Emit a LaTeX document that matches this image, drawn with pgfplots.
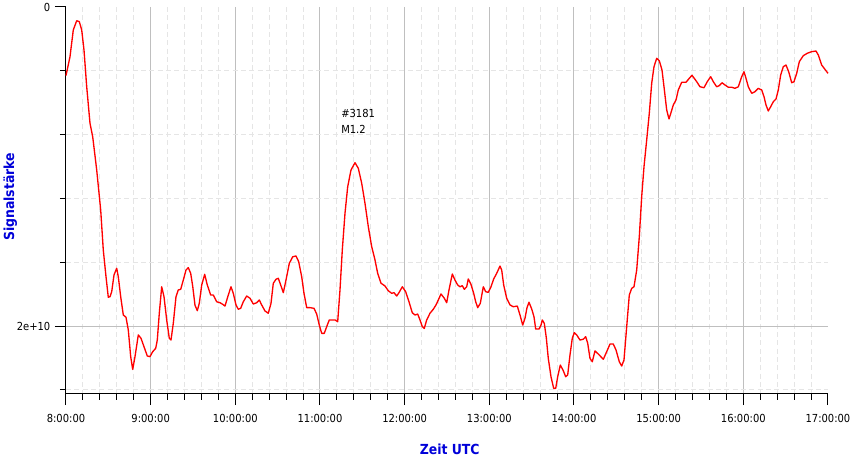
\documentclass[border=0pt]{standalone}
\usepackage{fontspec}
\setmainfont{DejaVu Sans Condensed}
\usepackage{pgfplots}
\usepackage{pgfplotstable}
\pgfplotsset{compat=1.18}
\pgfplotstableread{
m v
0 0.43
2.83 0.312
5.17 0.144
7.58 0.086
9.43 0.092
11.13 0.144
12.76 0.270
14.67 0.500
17.01 0.729
18.92 0.813
21.76 1.022
24.59 1.273
26.43 1.524
28.35 1.691
29.98 1.820
31.18 1.816
32.39 1.785
34.02 1.680
35.93 1.638
37.06 1.691
38.76 1.816
40.61 1.931
42.52 1.945
44.15 2.025
45.85 2.192
47.27 2.272
48.90 2.192
51.24 2.056
53.15 2.077
55.28 2.130
57.61 2.188
59.53 2.192
61.44 2.161
63.57 2.140
64.70 2.088
66.12 1.920
67.82 1.754
69.45 1.816
71.36 1.962
73.20 2.077
74.41 2.088
76.04 1.983
77.95 1.816
79.58 1.774
81.28 1.770
83.13 1.712
85.04 1.649
86.67 1.634
88.37 1.670
89.79 1.750
91.42 1.870
93.05 1.904
94.46 1.858
96.17 1.743
98.29 1.676
100.13 1.743
102.54 1.806
104.39 1.806
106.80 1.848
109.13 1.854
111.05 1.864
112.68 1.875
115.01 1.806
116.93 1.754
118.56 1.795
120.47 1.868
122.10 1.895
123.80 1.889
125.64 1.848
128.05 1.812
130.39 1.826
132.73 1.862
135.14 1.854
136.98 1.837
138.68 1.868
141.02 1.906
143.36 1.920
145.28 1.858
146.91 1.732
148.82 1.707
150.45 1.701
152.15 1.743
154.00 1.791
155.91 1.712
158.25 1.607
160.66 1.566
163.00 1.561
164.91 1.597
167.03 1.691
168.66 1.795
170.58 1.885
172.91 1.885
175.75 1.889
177.66 1.925
179.50 1.994
181.20 2.046
183.04 2.046
184.75 2.004
186.59 1.962
190.63 1.962
192.54 1.973
194.17 1.774
195.80 1.524
197.72 1.293
199.63 1.127
201.97 1.022
204.80 0.976
207.14 1.011
209.55 1.105
211.89 1.231
214.23 1.377
216.64 1.503
218.98 1.586
220.89 1.670
223.23 1.732
226.06 1.749
228.40 1.779
230.81 1.795
232.44 1.791
234.35 1.812
235.98 1.791
238.32 1.754
240.73 1.785
243.07 1.848
245.41 1.917
247.32 1.931
249.23 1.925
250.87 1.962
252.50 2.004
253.91 2.015
255.61 1.962
257.95 1.920
260.29 1.895
262.20 1.868
263.84 1.837
265.75 1.799
268.09 1.826
269.79 1.854
271.42 1.774
273.76 1.674
275.67 1.712
277.58 1.743
279.21 1.754
280.84 1.747
282.26 1.770
283.96 1.754
285.09 1.705
287.01 1.739
288.92 1.795
290.34 1.848
291.76 1.885
293.60 1.858
295.73 1.754
297.43 1.785
299.27 1.789
301.18 1.754
303.09 1.705
305.22 1.670
307.56 1.624
308.76 1.649
310.18 1.743
312.30 1.826
314.64 1.868
316.98 1.879
319.82 1.875
321.73 1.931
323.64 1.994
325.28 1.952
326.69 1.885
328.11 1.851
330.02 1.893
331.65 1.942
332.86 2.019
335.20 2.019
336.61 1.994
337.53 1.962
338.95 1.983
340.37 2.073
341.78 2.203
343.70 2.318
345.61 2.391
347.03 2.391
348.45 2.318
350.29 2.245
352.20 2.276
354.12 2.318
355.53 2.307
357.16 2.182
358.79 2.077
360.21 2.042
361.91 2.056
364.25 2.088
366.59 2.083
368.29 2.067
369.71 2.108
371.34 2.203
372.97 2.224
374.88 2.156
377.93 2.182
380.77 2.209
383.17 2.161
385.51 2.113
387.85 2.113
389.76 2.150
392.10 2.224
393.80 2.251
395.43 2.213
397.35 2.004
399.19 1.806
400.89 1.764
402.52 1.754
404.44 1.649
406.28 1.440
407.98 1.189
409.61 1.001
411.52 0.834
413.37 0.666
415.07 0.478
416.70 0.374
418.61 0.322
420.45 0.337
422.37 0.395
423.78 0.500
425.70 0.646
427.33 0.702
428.96 0.656
430.38 0.614
432.29 0.583
433.92 0.520
436.33 0.472
439.37 0.472
441.71 0.447
443.62 0.428
446.95 0.468
449.29 0.500
452.13 0.506
454.46 0.468
456.87 0.437
458.71 0.468
461.12 0.500
462.97 0.493
464.88 0.475
467.01 0.489
469.34 0.503
471.75 0.503
474.09 0.510
476.43 0.500
478.84 0.437
480.47 0.406
481.89 0.447
483.52 0.500
485.93 0.541
488.27 0.531
490.61 0.510
493.02 0.520
494.65 0.562
496.06 0.614
497.69 0.652
499.39 0.625
501.24 0.594
503.15 0.577
504.78 0.520
506.48 0.426
508.33 0.374
510.24 0.364
512.15 0.406
514.28 0.475
515.91 0.468
517.82 0.416
519.67 0.343
522.50 0.305
525.34 0.290
528.45 0.280
531.50 0.276
533.13 0.301
535.54 0.364
537.87 0.391
540 0.416
}\signal
\begin{document}
\begin{tikzpicture}[x=1pt,y=1pt]
\useasboundingbox (0,0) rectangle (637.5,344.25);
\begin{axis}[
  at={(49.5pt,48.75pt)}, anchor=south west,
  scale only axis, width=571.5pt, height=290.25pt,
  xmin=0, xmax=540, ymin=0, ymax=2.4263,
  y dir=reverse,
  axis x line*=bottom, axis y line*=left,
  axis line style={-, black, line width=0.75pt},
  tick align=outside,
  major tick length=8.25pt, minor tick length=4.5pt,
  tick style={black, line width=0.75pt},
  xtick={60,120,180,240,300,360,420,480},
  xticklabels={9:00:00,10:00:00,11:00:00,12:00:00,13:00:00,14:00:00,15:00:00,16:00:00},
  extra x ticks={0,540},
  extra x tick labels={8:00:00,17:00:00},
  extra x tick style={grid=none},
  minor xtick={12,24,36,48,72,84,96,108,132,144,156,168,192,204,216,228,252,264,276,288,312,324,336,348,372,384,396,408,432,444,456,468,492,504,516,528},
  ytick={2}, yticklabels={2e+10},
  extra y ticks={0}, extra y tick labels={0},
  extra y tick style={grid=none},
  minor ytick={0.4,0.8,1.2,1.6,2.4},
  xmajorgrids, ymajorgrids, xminorgrids, yminorgrids,
  major grid style={solid, draw=black!25, line width=0.75pt},
  minor grid style={draw=black!10, line width=0.75pt, dash pattern=on 3.75pt off 2.5pt},
  ticklabel style={font=\fontsize{8.3}{9}\selectfont, text=black},
  xticklabel style={yshift=-3.8pt},
  clip=false,
]
\addplot[red, line width=1pt, line join=round] table[x=m, y=v] {\signal};
\node[anchor=north west, align=left, inner sep=0pt, font=\fontsize{8.3}{11.7}\selectfont] at (axis cs:194.9,0.640) {\#3181\\M1.2};
\end{axis}
\node[anchor=base, font=\bfseries\fontsize{10.4}{12}\selectfont, text=blue!85!black] at (337.3,3) {Zeit UTC};
\node[anchor=base, rotate=90, font=\bfseries\fontsize{10.4}{12}\selectfont, text=blue!85!black] at (10.5,196.7) {Signalstärke};
\end{tikzpicture}
\end{document}
